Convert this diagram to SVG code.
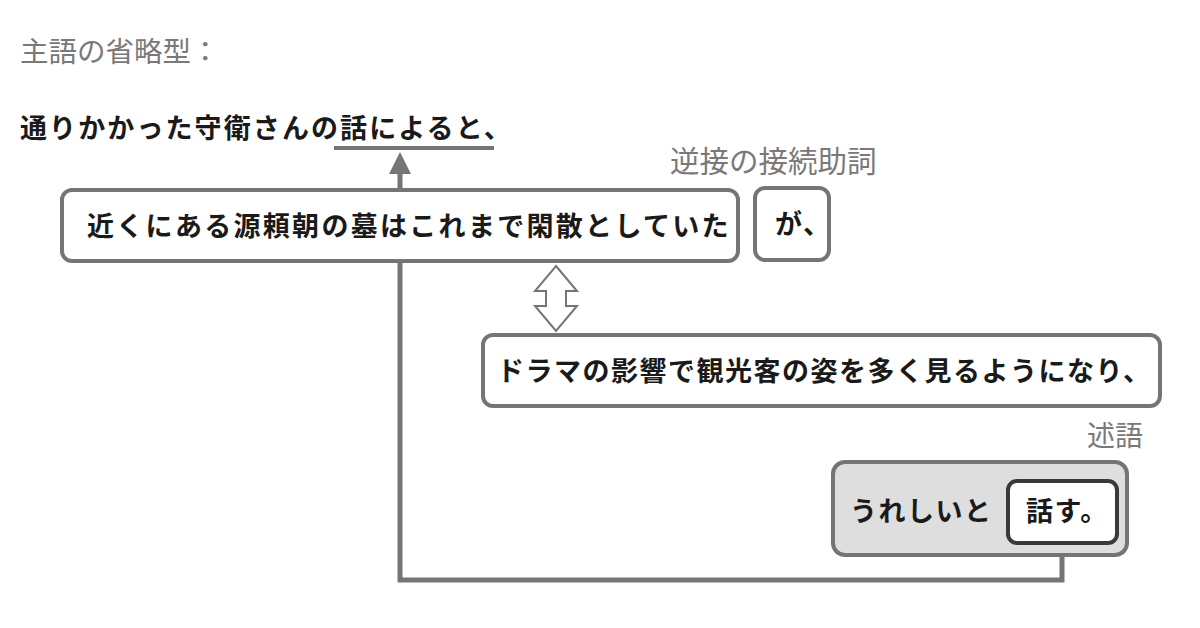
<svg xmlns="http://www.w3.org/2000/svg" width="1200" height="628" viewBox="0 0 1200 628">
<defs>
<style>
.lbl{font-family:"Noto Sans CJK JP","Noto Sans",sans-serif;font-size:28px;fill:#7a7878;}
.txt{font-family:"Noto Sans CJK JP","Noto Sans",sans-serif;font-size:27px;font-weight:bold;fill:#1a1a1a;letter-spacing:1.5px;}
.box{fill:#fff;stroke:#777474;stroke-width:4;}
.conn{fill:none;stroke:#777474;stroke-width:5;}
</style>
</defs>
<rect width="1200" height="628" fill="#fff"/>
<text class="lbl" x="20" y="62" style="font-size:28.5px">主語の省略型：</text>
<g id="sentence-head">
<text class="txt" x="20" y="138" style="letter-spacing:2.1px">通りかかった守衛さんの話によると、</text>
<line x1="334" y1="148" x2="494" y2="148" stroke="#777474" stroke-width="4"/>
</g>
<g id="connectors">
<path class="conn" d="M1062,543 V580 H400 V174"/>
<path d="M389,174 L400,152 L411,174 Z" fill="#777474"/>
<path d="M556,266 L577,291 L566,291 L566,306 L577,306 L556,331 L535,306 L546,306 L546,291 L535,291 Z" fill="#fff" stroke="#777474" stroke-width="2"/>
</g>
<g id="node-clause1">
<rect class="box" x="62" y="190" width="676" height="71" rx="10"/>
<text class="txt" x="87" y="236" style="letter-spacing:2.3px">近くにある源頼朝の墓はこれまで閑散としていた</text>
</g>
<g id="node-ga">
<text class="lbl" x="670" y="172" style="font-size:29.5px">逆接の接続助詞</text>
<rect class="box" x="755" y="188" width="74" height="72" rx="10"/>
<text class="txt" x="775" y="234">が、</text>
</g>
<g id="node-clause2">
<rect class="box" x="483" y="335" width="677" height="71" rx="10"/>
<text class="txt" x="497" y="381">ドラマの影響で観光客の姿を多く見るようになり、</text>
</g>
<g id="node-predicate">
<text class="lbl" x="1087" y="446">述語</text>
<rect x="833" y="462" width="294" height="93" rx="12" fill="#dedede" stroke="#777474" stroke-width="4"/>
<text class="txt" x="850" y="521">うれしいと</text>
<rect x="1008" y="481" width="109" height="62" rx="9" fill="#fff" stroke="#3a3a3a" stroke-width="4"/>
<text class="txt" x="1026" y="521">話す。</text>
</g>
</svg>
